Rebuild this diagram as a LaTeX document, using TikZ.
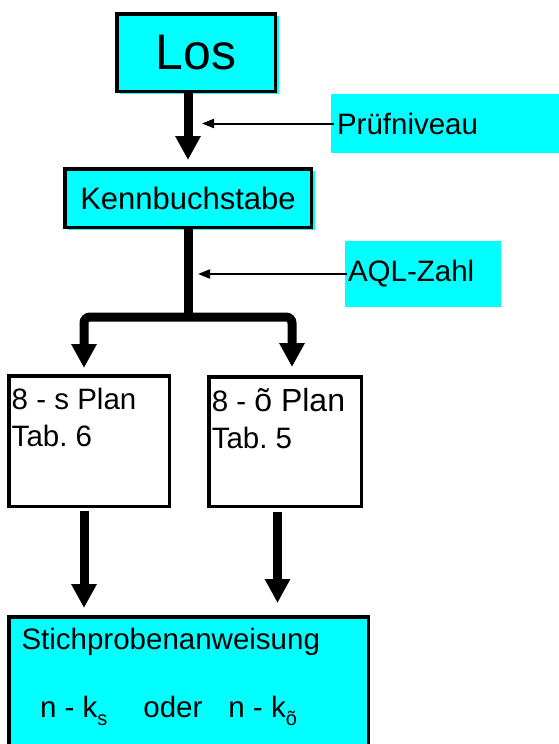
\documentclass[tikz,border=0pt]{standalone}
\usepackage{fontspec}
\setmainfont{Liberation Sans}
\usetikzlibrary{positioning, arrows.meta}

\definecolor{hellcyan}{RGB}{0,255,255}
\newcommand{\tief}[1]{\raisebox{-8pt}{\fontsize{20}{20}\selectfont #1}}
\frenchspacing

\begin{document}
\begin{tikzpicture}[x=1pt, y=-1pt,
	every node/.style={font=\fontsize{29.5}{37}\selectfont},
	kasten/.style={draw, line width=3.5pt, outer sep=0pt, inner sep=0pt},
	tuerkis/.style={kasten, fill=hellcyan, preaction={fill=hellcyan, transform canvas={xshift=3.5pt, yshift=-2.5pt}}},
	etikett/.style={fill=hellcyan, outer sep=0pt, inner ysep=0pt, align=left, anchor=north west},
	dick/.style={line width=9pt, -{Triangle[length=24pt, width=24pt]}},
	duenn/.style={line width=2pt, -{Triangle[length=12pt, width=9pt]}}]
	\useasboundingbox (0,0) rectangle (559,744);
	\clip (0,0) rectangle (559,744);

	% Kaesten
	\node[tuerkis, minimum width=158.5pt, minimum height=77.5pt, font=\fontsize{50}{60}\selectfont] (los) at (196,52.5) {Los};
	\node[tuerkis, minimum width=246.5pt, minimum height=58.5pt, font=\fontsize{31}{37}\selectfont] (kenn) at (188,198) {Kennbuchstabe};
	\node[etikett, minimum height=59pt, inner xsep=6pt, text width=218pt] (pruef) at (331,94) {Prüfniveau};
	\node[etikett, minimum height=66pt, inner xsep=3pt, text width=150pt] (aql) at (345,241) {AQL-Zahl};

	\node[kasten, anchor=north west, inner xsep=3pt, inner ysep=12pt] (planS) at (8.75,375.75)
		{\parbox[t][106.5pt][t]{154.5pt}{\raggedright 8 - s Plan\\Tab. 6}};
	\node[kasten, anchor=north west, inner xsep=3pt, inner ysep=12pt] (planO) at (208.75,376.75)
		{\parbox[t][105.5pt][t]{146.5pt}{\raggedright 8 - {\fontsize{32}{37}\selectfont õ Plan}\\Tab. 5}};

	\node[kasten, fill=hellcyan, anchor=north west, inner xsep=12.75pt, inner ysep=11.5pt] (anw) at (8.75,616.75)
		{\parbox[t][150pt][t]{334pt}{\raggedright Stichprobenanweisung\\[31pt]%
		\hspace*{18.5pt}n - k\tief{s}\hspace{36pt}oder\hspace{26pt}n - k\tief{õ}}};

	% Dicke Pfeile
	\draw[dick, shorten >=8.75pt] (los.south -| kenn.north) -- (kenn.north);
	\coordinate (gabel) at ([yshift=-89.75pt]kenn.south);
	\draw[line width=9pt] (kenn.south) -- (gabel);
	\draw[dick, rounded corners=6pt, shorten >=7.75pt] (gabel) -| ([xshift=-5pt]planS.north);
	\draw[dick, rounded corners=6pt, shorten >=9.75pt] (gabel) -| ([xshift=7pt]planO.north);
	\draw[dick, shorten <=4.75pt, shorten >=8.75pt] ([xshift=-5pt]planS.south) -- ([xshift=-5pt]planS.south |- anw.north);
	\draw[dick, shorten <=5.75pt, shorten >=13.75pt] ([xshift=-7.5pt]planO.south) -- ([xshift=-7.5pt]planO.south |- anw.north);

	% Duenne Pfeile
	\draw[duenn, shorten <=-3pt, shorten >=14pt] (pruef.west) -- (pruef.west -| kenn.north);
	\draw[duenn, shorten <=-2pt, shorten >=10pt] (aql.west) -- (aql.west -| kenn.south);
\end{tikzpicture}
\end{document}
